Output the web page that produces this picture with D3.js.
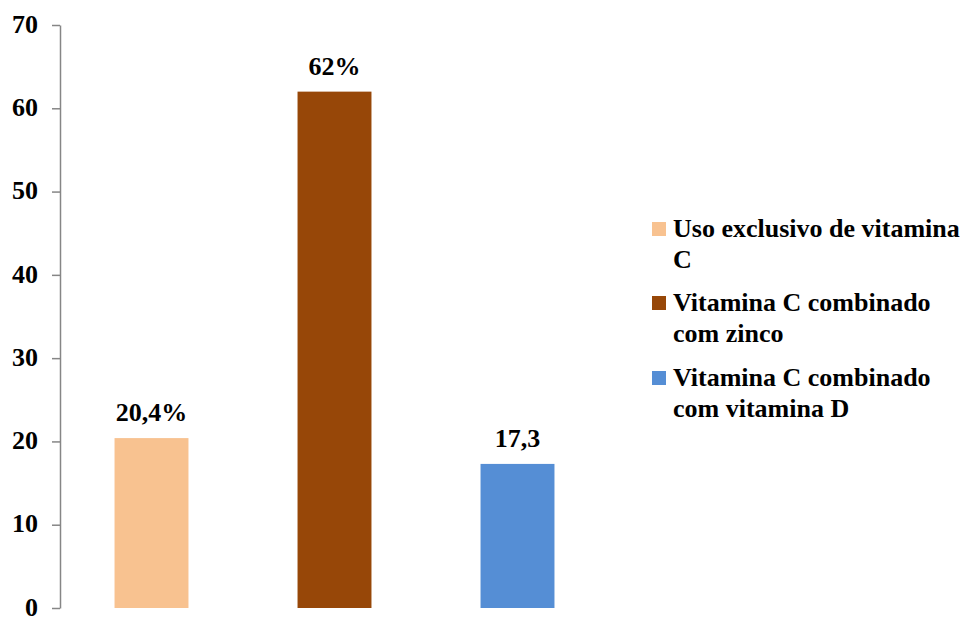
<!DOCTYPE html>
<html>
<head>
<meta charset="utf-8">
<script src="https://cdn.jsdelivr.net/npm/d3@7"></script>
<style>
  html, body { margin: 0; padding: 0; background: #fff; }
  svg { display: block; }
  text { font-family: "Liberation Serif", "DejaVu Serif", serif; font-weight: bold; }
</style>
</head>
<body>
<svg id="chart" width="971" height="617"></svg>
<script>
// Vitamin C supplementation categories and their shares
const categories = ["Uso exclusivo de vitamina C", "Vitamina C combinado com zinco", "Vitamina C combinado com vitamina D"];
const values = [20.4, 62, 17.3];
const valueLabels = ["20,4%", "62%", "17,3"];
const legendLines = [["Uso exclusivo de vitamina", "C"], ["Vitamina C combinado", "com zinco"], ["Vitamina C combinado", "com vitamina D"]];
const colors = ["#F8C290", "#974708", "#558ED5"];
const yTicks = [0, 10, 20, 30, 40, 50, 60, 70];

const FONT = "Liberation Serif, serif";
const svg = d3.select("#chart");

const x = d3.scaleBand()
  .domain(categories)
  .range([60, 609])
  .paddingInner(0.596)
  .paddingOuter(0.298);

const y = d3.scaleLinear()
  .domain([0, 70])
  .range([608, 25]);

// Y axis
const yAxis = svg.append("g")
  .attr("transform", "translate(60,0)")
  .call(d3.axisLeft(y).tickValues(yTicks).tickSize(8).tickPadding(14).tickSizeOuter(0));
yAxis.attr("font-family", FONT).attr("font-weight", "bold").attr("font-size", 26);
yAxis.select(".domain").attr("stroke", "#868686").attr("stroke-width", 1.5);
yAxis.selectAll(".tick line").attr("stroke", "#868686").attr("stroke-width", 1.5);
yAxis.selectAll(".tick text")
  .attr("fill", "#000")
  .attr("dy", "0.28em");

// Bars
svg.append("g").selectAll("rect")
  .data(categories)
  .join("rect")
  .attr("x", d => x(d))
  .attr("y", (d, i) => y(values[i]))
  .attr("width", x.bandwidth())
  .attr("height", (d, i) => y(0) - y(values[i]))
  .attr("fill", (d, i) => colors[i]);

// Value labels
svg.append("g")
  .attr("font-family", FONT).attr("font-weight", "bold").attr("font-size", 26)
  .selectAll("text")
  .data(categories)
  .join("text")
  .attr("x", d => x(d) + x.bandwidth() / 2)
  .attr("y", (d, i) => y(values[i]) - 17)
  .attr("text-anchor", "middle")
  .attr("fill", "#000")
  .text((d, i) => valueLabels[i]);

// Legend
const legend = svg.append("g")
  .attr("transform", "translate(652,0)")
  .attr("font-family", FONT).attr("font-weight", "bold").attr("font-size", 26);
const rowTop = [237, 311, 386];
categories.forEach((c, i) => {
  const g = legend.append("g");
  g.append("rect")
    .attr("x", 0)
    .attr("y", rowTop[i] - 15)
    .attr("width", 14)
    .attr("height", 14)
    .attr("fill", colors[i]);
  legendLines[i].forEach((line, j) => {
    g.append("text")
      .attr("x", 21)
      .attr("y", rowTop[i] + j * 31)
      .attr("fill", "#000")
      .text(line);
  });
});
</script>
</body>
</html>
